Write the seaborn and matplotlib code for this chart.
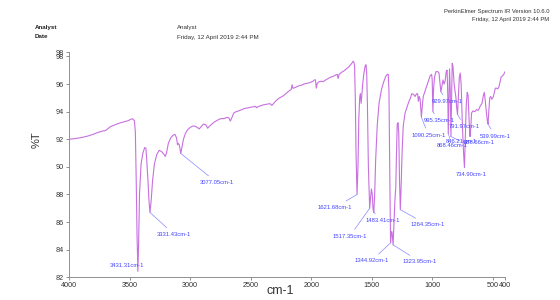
import matplotlib
matplotlib.use("Agg")
import matplotlib.pyplot as plt
import seaborn as sns
import pandas as pd
from matplotlib.ticker import FuncFormatter

# ---------------- data ----------------
wavenumber = [
    4000, 3950, 3900, 3850, 3800, 3760, 3720, 3700, 3660, 3620, 3580, 3540, 3510, 3490, 3475,
    3460, 3452, 3445, 3438, 3431.31, 3425, 3418, 3405, 3390, 3375, 3365, 3358, 3348, 3340,
    3331.43, 3322, 3310, 3295, 3275, 3255, 3235, 3215, 3205, 3195, 3180, 3160, 3140, 3125,
    3112, 3104, 3097, 3088, 3077.05, 3068, 3055, 3040, 3020, 3000, 2980, 2960, 2940, 2925,
    2910, 2890, 2870, 2855, 2840, 2820, 2800, 2780, 2760, 2740, 2720, 2700, 2680, 2668, 2658,
    2640, 2620, 2600, 2580, 2560, 2540, 2520, 2500, 2480, 2460, 2450, 2440, 2420, 2400, 2380,
    2360, 2340, 2325, 2310, 2290, 2270, 2250, 2230, 2210, 2190, 2175, 2165, 2158, 2152, 2140,
    2120, 2100, 2080, 2060, 2040, 2020, 2000, 1985, 1975, 1965, 1958, 1952, 1940, 1920, 1900,
    1880, 1860, 1840, 1820, 1800, 1785, 1778, 1770, 1750, 1730, 1710, 1695, 1680, 1665, 1655,
    1648, 1642, 1636, 1630, 1621.68, 1614, 1607, 1600, 1594, 1588, 1582, 1575, 1565, 1555,
    1548, 1542, 1536, 1528, 1517.35, 1510, 1503, 1496, 1490, 1483.41, 1476, 1468, 1455, 1440,
    1420, 1400, 1385, 1372, 1364, 1358, 1352, 1344.92, 1338, 1333, 1328, 1323.95, 1316, 1309,
    1302, 1296, 1290, 1283, 1277, 1271, 1264.35, 1258, 1250, 1240, 1225, 1210, 1195, 1180,
    1170, 1155, 1143, 1130, 1122, 1115, 1108, 1101, 1095, 1090.25, 1084, 1075, 1060, 1045,
    1030, 1018, 1006, 1001, 995.35, 990, 982, 970, 955, 945, 938, 929.97, 922, 912, 903, 895,
    885, 878, 872, 868.46, 864, 858, 852, 846.21, 841, 836, 830, 820, 805, 798, 791.97, 785,
    777, 770, 762, 752, 742, 734.90, 728, 720, 712, 705, 698, 692, 688.56, 683, 676, 665, 650,
    635, 620, 605, 590, 578, 571, 563, 552, 545, 539.99, 534, 526, 518, 510, 500, 490, 480,
    470, 460, 450, 440, 432, 420, 410, 400,
]
transmittance = [
    92.00, 92.05, 92.12, 92.22, 92.36, 92.50, 92.60, 92.62, 92.90, 93.05, 93.18, 93.28, 93.35, 93.45, 93.48,
    93.35, 92.5, 89.0, 85.0, 82.45, 84.5, 88.0, 90.2, 91.0, 91.4, 91.35, 90.5, 89.0, 87.6,
    86.7, 87.5, 89.0, 90.2, 90.9, 91.2, 91.1, 90.9, 90.75, 91.0, 91.7, 92.1, 92.3, 92.35,
    92.1, 91.6, 91.7, 91.55, 90.97, 91.4, 92.0, 92.4, 92.7, 92.85, 92.95, 92.95, 92.85, 92.75,
    92.9, 93.1, 93.05, 92.8, 92.95, 93.1, 93.25, 93.35, 93.45, 93.5, 93.5, 93.58, 93.55, 93.32, 93.5,
    93.9, 94.0, 94.05, 94.12, 94.2, 94.25, 94.28, 94.32, 94.35, 94.38, 94.28, 94.36, 94.42, 94.48, 94.52,
    94.55, 94.58, 94.45, 94.6, 94.8, 94.95, 95.05, 95.15, 95.3, 95.45, 95.55, 95.62, 95.95, 95.7, 95.72,
    95.8, 95.88, 95.92, 96.0, 96.05, 96.08, 96.15, 96.2, 96.3, 96.3, 95.7, 96.0, 96.15, 96.2, 96.18,
    96.3, 96.4, 96.5, 96.55, 96.65, 96.7, 96.4, 96.7, 96.85, 96.95, 97.1, 97.2, 97.35, 97.5, 97.65,
    97.6, 97.3, 95.0, 91.0, 88.0, 90.0, 93.5, 95.0, 95.3, 94.6, 95.2, 96.0, 96.8, 97.3,
    97.4, 96.8, 94.5, 90.0, 87.0, 87.8, 88.4, 88.0, 87.0, 86.7, 88.0, 90.5, 93.0, 94.6,
    95.6, 96.2, 96.55, 96.7, 96.7, 95.5, 90.0, 84.5, 85.3, 85.3, 84.8, 84.35, 86.0, 87.6,
    88.5, 91.0, 93.1, 93.2, 92.4, 89.0, 86.9, 88.5, 91.0, 93.0, 93.9, 94.3, 94.7, 95.0,
    95.3, 95.25, 95.1, 95.3, 95.3, 94.75, 95.1, 94.9, 94.2, 93.6, 94.3, 95.1, 95.5, 95.9,
    96.3, 96.6, 96.7, 96.3, 94.0, 95.6, 96.5, 96.9, 96.9, 96.8, 96.2, 95.45, 95.8, 96.3, 96.0, 96.2,
    96.9, 97.0, 95.0, 92.4, 94.5, 97.1, 95.5, 92.2, 95.0, 97.5, 97.3, 96.0, 95.0, 94.2, 93.8, 95.0,
    96.5, 96.8, 96.0, 93.0, 91.0, 89.95, 92.0, 94.5, 95.4, 95.2, 93.8, 92.5, 92.2, 92.8, 93.9, 94.05, 94.0,
    94.15, 94.1, 94.4, 94.6, 95.2, 95.4, 94.8, 93.8, 93.3, 93.1, 94.0, 95.0, 95.1, 94.9, 95.0, 95.3, 95.7,
    95.7, 95.65, 95.8, 96.2, 96.5, 96.6, 96.7, 96.9,
]

peak_wn = [3431.31, 3331.43, 3077.05, 1621.68, 1517.35, 1483.41, 1264.35, 1344.92, 1323.95,
           1090.25, 995.35, 929.97, 868.46, 846.21, 791.97, 734.90, 688.56, 539.99]

x_ticks = [4000, 3500, 3000, 2500, 2000, 1500, 1000, 500, 400]
y_ticks = [82, 84, 86, 88, 90, 92, 94, 96, 98, 98.3]

# label offsets in pixels (layout only)
label_offsets = {
    3431.31: (-11, 6), 3331.43: (24, -22), 3077.05: (36, -29), 1621.68: (-22, -13),
    1517.35: (-20, -28), 1483.41: (9, -8), 1264.35: (27, -15), 1344.92: (-19, -18),
    1323.95: (27, -17), 1090.25: (7, -18), 995.35: (6, -9), 929.97: (6, -10),
    868.46: (4, -12), 846.21: (10, -5), 791.97: (7, -12), 734.90: (7, -7),
    688.56: (9, -6), 539.99: (7, -12),
}

df = pd.DataFrame({"wn": wavenumber, "T": transmittance})

sns.set_style("white")
plt.rcParams["font.family"] = ["Liberation Sans", "DejaVu Sans"]

fig = plt.figure(figsize=(5.6, 3.0), dpi=100)
ax = fig.add_axes([69 / 560, 1 - 277.3 / 300, (505 - 69) / 560, (277.3 - 52.3) / 300])

sns.lineplot(data=df, x="wn", y="T", sort=False, estimator=None, ax=ax,
             color="#c870e0", lw=0.8)

ax.set_xlim(4000, 400)
ax.set_ylim(82, 98.3)
ax.set_xticks(x_ticks)
ax.set_yticks(y_ticks)
ax.yaxis.set_major_formatter(FuncFormatter(lambda v, p: f"{v:.0f}"))
ax.xaxis.set_major_formatter(FuncFormatter(lambda v, p: f"{v:.0f}"))
ax.tick_params(axis="both", labelsize=5.2, length=2.5, width=0.6, color="#808080",
               pad=1, labelcolor="#333333", direction="out")
ax.tick_params(axis="both", bottom=True, left=True)
for s in ["top", "right"]:
    ax.spines[s].set_visible(False)
for s in ["left", "bottom"]:
    ax.spines[s].set_color("#909090")
    ax.spines[s].set_linewidth(0.7)

ax.set_xlabel("")
ax.set_ylabel("")
fig.text(37 / 560, 1 - 140 / 300, "%T", rotation=90, ha="center", va="center",
         fontsize=8, color="#333333")
fig.text(280 / 560, 1 - 291 / 300, "cm-1", ha="center", va="center",
         fontsize=9, color="#333333")

# peak labels
lookup = dict(zip(wavenumber, transmittance))
for w in peak_wn:
    t = lookup[w]
    dx, dy = label_offsets[w]
    ax.annotate(f"{w:.2f}cm-1", xy=(w, t), xytext=(dx * 0.72, dy * 0.72),
                textcoords="offset points", ha="center", va="center",
                fontsize=4.2, color="#4444ff",
                arrowprops=dict(arrowstyle="-", color="#8888ff", lw=0.5,
                                shrinkA=1, shrinkB=0))

# header texts
fig.text(35 / 560, 1 - 27 / 300, "Analyst", fontsize=4.5, fontweight="bold",
         color="#222222", va="center")
fig.text(35 / 560, 1 - 37 / 300, "Date", fontsize=4.5, fontweight="bold",
         color="#222222", va="center")
fig.text(177 / 560, 1 - 27 / 300, "Analyst", fontsize=4.5, color="#333333", va="center")
fig.text(177 / 560, 1 - 37 / 300, "Friday, 12 April 2019 2:44 PM", fontsize=4.5,
         color="#333333", va="center")
fig.text(549 / 560, 1 - 12 / 300, "PerkinElmer Spectrum IR Version 10.6.0", fontsize=4.2,
         color="#333333", ha="right", va="center")
fig.text(549 / 560, 1 - 19 / 300, "Friday, 12 April 2019 2:44 PM", fontsize=4.2,
         color="#333333", ha="right", va="center")

fig.savefig("out.png", dpi=100)
